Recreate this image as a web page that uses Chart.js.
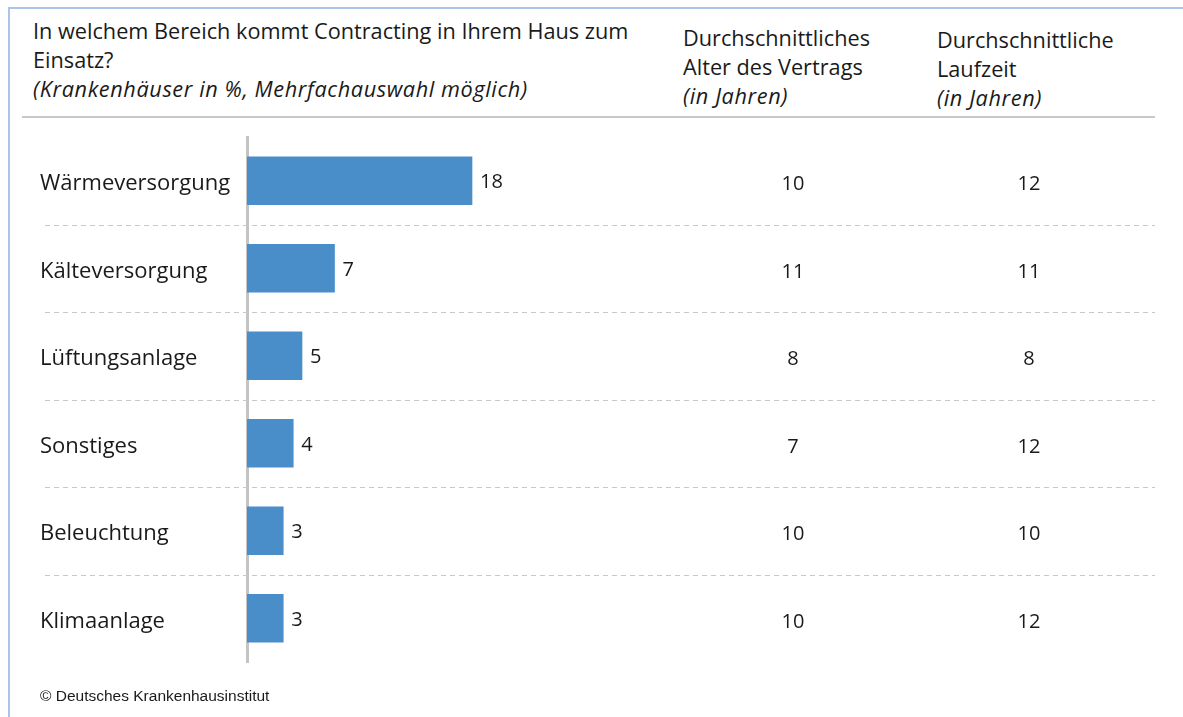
<!DOCTYPE html>
<html lang="de">
<head>
<meta charset="utf-8">
<script src="https://cdn.jsdelivr.net/npm/chart.js@4/dist/chart.umd.min.js"></script>
<style>
  html, body { margin: 0; padding: 0; background: #fff; overflow: hidden; }
  #wrap { position: relative; width: 1183px; height: 717px; }
  #frame {
    position: absolute; left: 8px; top: 7px; width: 1190px; height: 720px;
    border-left: 2px solid #a9c4e8; border-top: 2px solid #a9c4e8;
  }
  .hd { position: absolute; font-family: "Open Sans", sans-serif; font-size: 21.7px; line-height: 29px; color: #1a1a1a; white-space: nowrap; }
  .hd i { font-style: italic; letter-spacing: 0.6px; }
  #rule { position: absolute; left: 22px; top: 116px; width: 1133px; height: 0; border-top: 2px solid #c8c8c8; }
  #foot { position: absolute; left: 40px; top: 687px; font-family: "Liberation Sans", Arial, sans-serif; font-size: 15.5px; color: #1a1a1a; }
  canvas { position: absolute; left: 0; top: 0; }
</style>
</head>
<body>
<div id="wrap">
  <div id="frame"></div>
  <div class="hd" style="left:33px; top:16px;">In welchem Bereich kommt Contracting in Ihrem Haus zum<br>Einsatz?<br><i>(Krankenhäuser in %, Mehrfachauswahl möglich)</i></div>
  <div class="hd" style="left:683px; top:23px;">Durchschnittliches<br>Alter des Vertrags<br><i>(in Jahren)</i></div>
  <div class="hd" style="left:937px; top:25px;">Durchschnittliche<br>Laufzeit<br><i>(in Jahren)</i></div>
  <div id="rule"></div>
  <canvas id="myChart" width="1183" height="717"></canvas>
  <div id="foot">© Deutsches Krankenhausinstitut</div>
</div>
<script>
// Daten
const categories = ["Wärmeversorgung", "Kälteversorgung", "Lüftungsanlage", "Sonstiges", "Beleuchtung", "Klimaanlage"];
const shares = [18, 7, 4.4, 3.7, 2.9, 2.9];      // Balkenlänge (aus dem Bild gemessen)
const shareLabels = ["18", "7", "5", "4", "3", "3"]; // gedruckte Werte
const avgAge = [10, 11, 8, 7, 10, 10];            // Durchschnittliches Alter des Vertrags
const avgTerm = [12, 11, 8, 12, 10, 12];          // Durchschnittliche Laufzeit

const FONT = '"Open Sans", sans-serif';

// Werte, Spalten und gestrichelte Trennlinien zeichnen
const tablePlugin = {
  id: "tablePlugin",
  afterDatasetsDraw(chart) {
    const ctx = chart.ctx;
    const y = chart.scales.y;
    const meta = chart.getDatasetMeta(0);
    ctx.save();

    // gestrichelte Linien zwischen den Zeilen
    ctx.strokeStyle = "#c8c8c8";
    ctx.lineWidth = 1;
    ctx.setLineDash([5, 4]);
    for (let i = 0; i < categories.length - 1; i++) {
      const py = Math.round(y.getPixelForValue(i + 0.5)) + 0.5;
      ctx.beginPath();
      ctx.moveTo(45, py);
      ctx.lineTo(1155, py);
      ctx.stroke();
    }
    ctx.setLineDash([]);

    ctx.font = "20px " + FONT;
    ctx.fillStyle = "#1a1a1a";
    ctx.textBaseline = "middle";

    // Werte neben den Balken
    ctx.textAlign = "left";
    meta.data.forEach((bar, i) => {
      ctx.fillText(shareLabels[i], bar.x + 8, bar.y + 2);
    });

    // rechte Spalten
    ctx.textAlign = "center";
    categories.forEach((c, i) => {
      const py = y.getPixelForValue(i) + 4;
      ctx.fillText(String(avgAge[i]), 793, py);
      ctx.fillText(String(avgTerm[i]), 1029, py);
    });
    ctx.restore();
  }
};

const ctx = document.getElementById("myChart").getContext("2d");
new Chart(ctx, {
  type: "bar",
  data: {
    labels: categories,
    datasets: [
      {
        data: shares,
        backgroundColor: "#4a8ec9",
        borderWidth: 0,
        barThickness: 48,
      },
    ],
  },
  options: {
    indexAxis: "y",
    responsive: false,
    animation: false,
    layout: { padding: { left: 40, top: 137, right: 36, bottom: 55 } },
    plugins: {
      legend: { display: false },
      tooltip: { enabled: false },
    },
    scales: {
      x: {
        display: false,
        min: 0,
        max: 72,
      },
      y: {
        afterFit(scale) { scale.width = 207; },
        grid: { display: false, drawTicks: false },
        border: { display: true, color: "#c4c4c4", width: 3 },
        ticks: {
          crossAlign: "far",
          padding: 0,
          labelOffset: 3,
          color: "#1a1a1a",
          font: { family: FONT, size: 22 },
        },
      },
    },
  },
  plugins: [tablePlugin],
});
</script>
</body>
</html>
